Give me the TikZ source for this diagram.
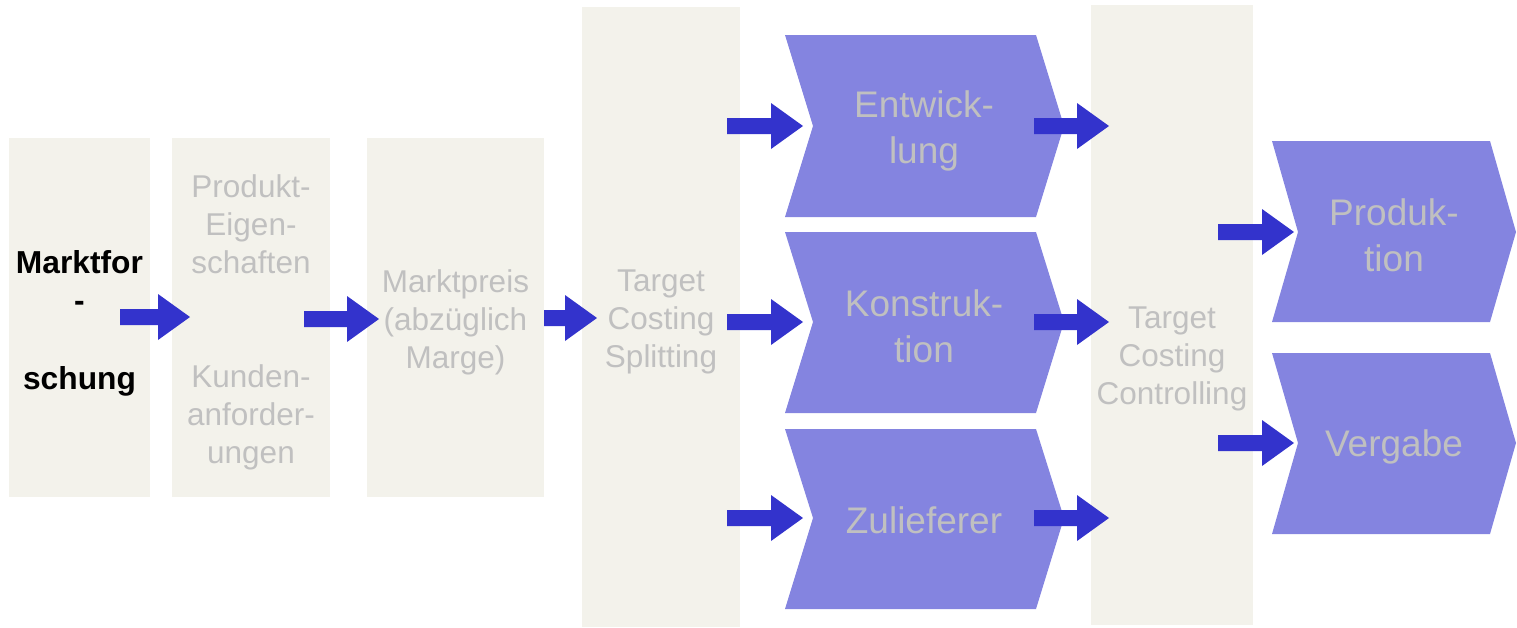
\documentclass[tikz,border=0pt]{standalone}
\usepackage{fontspec}
\setmainfont{Liberation Sans}
\usetikzlibrary{calc}

\definecolor{panelbg}{HTML}{F3F2EB}
\definecolor{chevbg}{HTML}{8484E0}
\definecolor{flowblue}{HTML}{3333CC}
\definecolor{labelgray}{HTML}{C0C0C0}

\tikzset{
  panel/.style={fill=panelbg, draw=none, inner sep=0pt},
  chev/.style={fill=chevbg, draw=none},
  stagetext/.style={text=labelgray, align=center, inner sep=0pt,
    font=\fontsize{31.5}{38}\selectfont},
  chevtext/.style={text=labelgray, align=center, inner sep=0pt,
    font=\fontsize{37}{46}\selectfont},
  boldtext/.style={text=black, align=center, inner sep=0pt,
    font=\fontsize{31.75}{38.7}\selectfont\bfseries},
}

% block arrow from the tail coordinate to the tip coordinate
\newcommand\flowarrow[2]{%
  \fill[flowblue] let \p1=(#1), \p2=(#2) in
    (\x1,\y1+8pt) -- (\x2-32pt,\y1+8pt) -- (\x2-32pt,\y1+23pt) -- (\x2,\y1)
    -- (\x2-32pt,\y1-23pt) -- (\x2-32pt,\y1-8pt) -- (\x1,\y1-8pt) -- cycle;}

\begin{document}
\begin{tikzpicture}[x=1pt, y=-1pt]
\useasboundingbox (0,0) rectangle (1517,627);

% tall panels
\node[panel, minimum width=141, minimum height=359] (markt)  at (79.5,317.5) {};
\node[panel, minimum width=158, minimum height=359] (eigen)  at (251,317.5) {};
\node[panel, minimum width=177, minimum height=359] (preis)  at (455.5,317.5) {};
\node[panel, minimum width=158, minimum height=620] (split)  at (661,317) {};
\node[panel, minimum width=162, minimum height=620] (contr)  at (1172,315) {};

\node[boldtext]  (marktT) at (79.5,323) {Marktfor\\-\\~\\schung};
\node[stagetext] (eigenT) at (251,224) {Produkt-\\Eigen-\\schaften};
\node[stagetext] (kundT)  at (251,417) {Kunden-\\anforder-\\ungen};
\node[stagetext] (preisT) at (455.5,322) {Marktpreis\\(abzüglich\\Marge)};
\node[stagetext] (splitT) at (661,322) {Target\\Costing\\Splitting};
\node[stagetext] (contrT) at (1172,359) {Target\\Costing\\Controlling};

% process chevrons
\fill[chev] (785,35) -- (1036,35) -- (1064,126) -- (1036,217) -- (785,217) -- (813,126) -- cycle;
\fill[chev] (785,232) -- (1036,232) -- (1064,322) -- (1036,413) -- (785,413) -- (813,322) -- cycle;
\fill[chev] (785,429) -- (1036,429) -- (1064,518) -- (1036,609) -- (785,609) -- (813,518) -- cycle;
\fill[chev] (1272,141) -- (1490,141) -- (1516,232) -- (1490,322) -- (1272,322) -- (1298,232) -- cycle;
\fill[chev] (1272,353) -- (1490,353) -- (1516,443) -- (1490,534) -- (1272,534) -- (1298,443) -- cycle;

\node[chevtext] (entw)  at (924,131) {Entwick-\\lung};
\node[chevtext] (konst) at (924,326) {Konstruk-\\tion};
\node[chevtext] (zul)   at (924,520) {Zulieferer};
\node[chevtext] (prod)  at (1394,235) {Produk-\\tion};
\node[chevtext] (verg)  at (1394,447) {Vergabe};

% arrow tails and tips
\coordinate (t1) at (120,317);  \coordinate (h1) at (190,317);
\coordinate (t2) at (304,319);  \coordinate (h2) at (379,319);
\coordinate (t3) at (544,318);  \coordinate (h3) at (597,318);
\coordinate (t4) at (727,126);  \coordinate (h4) at (803,126);
\coordinate (t5) at (727,322);  \coordinate (h5) at (803,322);
\coordinate (t6) at (727,518);  \coordinate (h6) at (803,518);
\coordinate (t7) at (1034,126); \coordinate (h7) at (1109,126);
\coordinate (t8) at (1034,322); \coordinate (h8) at (1109,322);
\coordinate (t9) at (1034,518); \coordinate (h9) at (1109,518);
\coordinate (t10) at (1218,232); \coordinate (h10) at (1294,232);
\coordinate (t11) at (1218,443); \coordinate (h11) at (1294,443);

\flowarrow{t1}{h1}
\flowarrow{t2}{h2}
\flowarrow{t3}{h3}
\flowarrow{t4}{h4}
\flowarrow{t5}{h5}
\flowarrow{t6}{h6}
\flowarrow{t7}{h7}
\flowarrow{t8}{h8}
\flowarrow{t9}{h9}
\flowarrow{t10}{h10}
\flowarrow{t11}{h11}
\end{tikzpicture}
\end{document}
